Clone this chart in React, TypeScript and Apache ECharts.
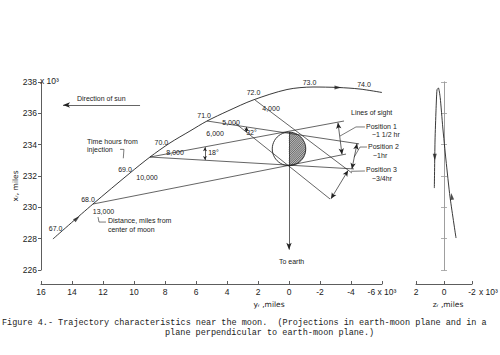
import React, { useEffect, useRef } from 'react';
import * as echarts from 'echarts';

// ---- data (yr, xr in thousands of miles) ----
const trajYr = [15.23, 12.65, 10.26, 8.97, 7.68, 6.39, 5.29, 3.94, 2.32, 0.13, -1.55, -3.16, -4.58, -6.0];
const trajXr = [227.98, 230.21, 232.19, 233.21, 234.11, 234.87, 235.51, 236.15, 236.85, 237.52, 237.68, 237.65, 237.55, 237.33];

const zTrajZr = [-0.86, -0.43, -0.14, 0.09, 0.27, 0.4, 0.5, 0.57, 0.64, 0.69];
const zTrajXr = [228.04, 230.66, 233.02, 235.13, 237.0, 237.62, 237.5, 236.2, 234.3, 231.23];

const timeLabels = ['67.0', '68.0', '69.0', '70.0', '71.0', '72.0', '73.0', '74.0'];
const timeYr = [15.06, 12.97, 10.58, 8.23, 5.48, 2.29, -1.32, -4.84];
const timeXr = [228.66, 230.47, 232.43, 234.17, 235.89, 237.32, 237.96, 237.81];

const distLabels = ['13,000', '10,000', '8,000', '6,000', '5,000', '4,000'];
const distYr = [11.97, 9.16, 7.35, 4.77, 3.74, 1.16];
const distXr = [229.72, 231.89, 233.49, 234.73, 235.4, 236.32];

const angleLabels = ['18°', '32°'];
const angleYr = [4.87, 2.42];
const angleXr = [233.49, 234.76];

const noteTexts = ['Time hours from', 'injection', 'Distance, miles from', 'center of moon', 'Direction of sun',
  'Lines of sight', 'Position 1', '~1 1/2 hr', 'Position 2', '~1hr', 'Position 3', '~3/4hr', 'To earth'];
const noteYr = [13.03, 13.03, 11.68, 11.68, 13.68, -4.0, -4.97, -5.35, -5.1, -5.42, -4.97, -5.35, 0.65];
const noteXr = [234.22, 233.7, 229.17, 228.6, 236.96, 236.07, 235.18, 234.66, 233.86, 233.33, 232.4, 231.84, 226.57];

const moonCenter = [0, 233.73];
const moonRadius = 1.08;

const sightStart = [[12.65, 230.21], [8.97, 233.21], [8.97, 233.21], [5.29, 235.51], [2.19, 236.85], [3.48, 235.38]];
const sightEnd = [[-3.68, 233.4], [-3.55, 235.51], [-4.19, 232.45], [-4.52, 234.05], [-4.06, 232.19], [-2.65, 230.53]];

const dimStart = [[-3.16, 235.4], [-4.39, 234.07], [-3.81, 232.35], [5.42, 233.84], [2.75, 235.13]];
const dimEnd = [[-3.42, 233.38], [-4.06, 232.45], [-2.71, 230.55], [5.42, 233.02], [2.75, 234.8]];

const sunArrow = [[14.58, 236.53], [9.61, 236.53]];
const earthArrow = [[0, 234.81], [0, 227.3]];

const leaders = [
  [[-4.9, 235.13], [-4.32, 235.13], [-3.29, 234.55]],
  [[-5.03, 233.85], [-4.58, 233.85], [-4.2, 233.2]],
  [[-4.9, 232.32], [-4.0, 232.3]],
  [[10.9, 233.7], [10.65, 233.7], [10.69, 233.13]],
  [[12.32, 229.38], [12.26, 229.06], [11.81, 229.06]],
];

const trajArrows = [[13.68, 229.29, -49], [-3.16, 237.65, -90]];
const zArrows = [[-0.55, 230.7, 7], [0.66, 233.2, 180]];

const INK = '#222';
const FONT = 'Liberation Sans';

export default function App() {
  const ref = useRef<HTMLDivElement>(null);
  useEffect(() => {
    if (!ref.current) return;
    const chart = echarts.init(ref.current, null, { renderer: 'svg' });

    const axisLineStyle = { color: '#333', width: 0.8 };
    const greyLine = { color: '#9a9a9a', width: 0.8 };
    const labelStyle = { fontSize: 8.5, fontFamily: FONT, color: INK };

    const markLineData: any[] = [];
    sightStart.forEach((s, i) => {
      markLineData.push([{ coord: s }, { coord: sightEnd[i] }]);
    });
    dimStart.forEach((s, i) => {
      const sz = i < 3 ? [4, 6] : [3, 4];
      markLineData.push([
        { coord: s, symbol: 'arrow', symbolSize: sz },
        { coord: dimEnd[i], symbol: 'arrow', symbolSize: sz },
      ]);
    });
    markLineData.push([
      { coord: sunArrow[0], symbol: 'arrow', symbolSize: [4, 7] },
      { coord: sunArrow[1], symbol: 'none' },
    ]);
    markLineData.push([
      { coord: earthArrow[0], symbol: 'none' },
      { coord: earthArrow[1], symbol: 'arrow', symbolSize: [4, 7] },
    ]);

    const staticGraphic: any[] = [
      { type: 'text', x: 40, y: 81, style: { text: 'x 10³', fontSize: 8.5, fontFamily: FONT, fill: INK, align: 'left', verticalAlign: 'middle' } },
      { type: 'text', x: 479, y: 292, style: { text: 'x 10³', fontSize: 8.5, fontFamily: FONT, fill: INK, align: 'left', verticalAlign: 'middle' } },
      { type: 'text', x: 15, y: 186, rotation: Math.PI / 2, style: { text: 'xᵣ, miles', fontSize: 7.5, fontFamily: 'DejaVu Sans', fill: INK, align: 'center', verticalAlign: 'middle' } },
      { type: 'text', x: 269, y: 304, style: { text: 'yᵣ ,miles', fontSize: 7.5, fontFamily: 'DejaVu Sans', fill: INK, align: 'center', verticalAlign: 'middle' } },
      { type: 'text', x: 448, y: 304, style: { text: 'zᵣ ,miles', fontSize: 7.5, fontFamily: 'DejaVu Sans', fill: INK, align: 'center', verticalAlign: 'middle' } },
      { type: 'text', x: 2, y: 323, style: { text: 'Figure 4.- Trajectory characteristics near the moon.  (Projections in earth-moon plane and in a', fontSize: 8.5, fontFamily: 'Liberation Mono', fill: INK, align: 'left', verticalAlign: 'middle' } },
      { type: 'text', x: 165, y: 333, style: { text: 'plane perpendicular to earth-moon plane.)', fontSize: 8.5, fontFamily: 'Liberation Mono', fill: INK, align: 'left', verticalAlign: 'middle' } },
    ];

    const option: any = {
      animation: false,
      backgroundColor: '#fff',
      grid: [
        { left: 41, right: 118, top: 82, bottom: 85, containLabel: false, outerBoundsMode: 'none' },
        { left: 416, right: 28, top: 82, bottom: 85, containLabel: false, outerBoundsMode: 'none' },
      ],
      xAxis: [
        {
          type: 'value', gridIndex: 0, min: -6, max: 16, interval: 2, inverse: true, offset: 14,
          axisLine: { show: true, onZero: false, lineStyle: axisLineStyle },
          axisTick: { show: true, inside: true, length: 3, lineStyle: axisLineStyle },
          axisLabel: {
            ...labelStyle, margin: 3, showMinLabel: true, showMaxLabel: true,
            formatter: (v: number) => (v === -6 ? '-6 x 10³' : String(v)),
          },
          splitLine: { show: false },
        },
        {
          type: 'value', gridIndex: 1, min: -2, max: 2, interval: 2, inverse: true, offset: 14,
          axisLine: { show: true, onZero: false, lineStyle: axisLineStyle },
          axisTick: { show: true, inside: true, length: 3, lineStyle: axisLineStyle },
          axisLabel: { ...labelStyle, margin: 3, showMinLabel: true, showMaxLabel: true, formatter: (v: number) => String(v) },
          splitLine: { show: false },
        },
      ],
      yAxis: [
        {
          type: 'value', gridIndex: 0, min: 226, max: 238, interval: 2, position: 'left',
          axisLine: { show: true, onZero: false, lineStyle: axisLineStyle },
          axisTick: { show: true, length: 3, lineStyle: axisLineStyle },
          axisLabel: { ...labelStyle, margin: 4, showMinLabel: true, showMaxLabel: true },
          splitLine: { show: false },
        },
        {
          type: 'value', gridIndex: 1, min: 226, max: 238, interval: 2, position: 'left', offset: -28,
          axisLine: { show: true, onZero: false, lineStyle: greyLine },
          axisTick: { show: true, length: 3, lineStyle: greyLine },
          axisLabel: { show: false },
          splitLine: { show: false },
        },
        {
          type: 'value', gridIndex: 1, min: 226, max: 238, interval: 2, position: 'right', offset: -28,
          axisLine: { show: true, onZero: false, lineStyle: greyLine },
          axisTick: { show: true, length: 3, lineStyle: greyLine },
          axisLabel: { show: false },
          splitLine: { show: false },
        },
      ],
      series: [
        {
          type: 'custom', xAxisIndex: 0, yAxisIndex: 0, silent: true,
          dimensions: ['yr', 'xr', 'r'], encode: { x: 0, y: 1 },
          data: [[moonCenter[0], moonCenter[1], moonRadius]],
          renderItem: (params: any, api: any) => {
            const c = api.coord([api.value(0), api.value(1)]);
            const rr = api.size([api.value(2), 0])[0];
            const children: any[] = [];
            children.push({
              type: 'sector',
              shape: { cx: c[0], cy: c[1], r0: 0, r: rr, startAngle: -Math.PI / 2, endAngle: Math.PI / 2, clockwise: true },
              style: { fill: '#b8b8b8', stroke: 'none' },
            });
            const step = 2.2;
            for (let k = -rr * Math.SQRT2; k <= rr * Math.SQRT2; k += step) {
              const disc = (rr * rr - (k * k) / 2) / 2;
              if (disc <= 0) continue;
              const T = Math.sqrt(disc);
              const t0 = Math.max(-T, -k / 2);
              if (t0 >= T) continue;
              children.push({
                type: 'line',
                shape: { x1: c[0] + k / 2 + t0, y1: c[1] + k / 2 - t0, x2: c[0] + k / 2 + T, y2: c[1] + k / 2 - T },
                style: { stroke: '#333', lineWidth: 0.6 },
              });
            }
            children.push({
              type: 'circle',
              shape: { cx: c[0], cy: c[1], r: rr },
              style: { fill: 'none', stroke: INK, lineWidth: 0.9 },
            });
            return { type: 'group', children };
          },
        },
        {
          type: 'line', xAxisIndex: 0, yAxisIndex: 0, silent: true,
          data: trajYr.map((v, i) => [v, trajXr[i]]),
          smooth: 0.3, showSymbol: false, symbol: 'none',
          lineStyle: { color: INK, width: 0.9 },
        },
        {
          type: 'line', xAxisIndex: 0, yAxisIndex: 0, silent: true, data: [],
          markLine: {
            silent: true, symbol: ['none', 'none'], label: { show: false },
            lineStyle: { color: INK, width: 0.7, type: 'solid' },
            emphasis: { disabled: true },
            data: markLineData,
          },
        },
        ...leaders.map((pts) => ({
          type: 'line', xAxisIndex: 0, yAxisIndex: 0, silent: true,
          data: pts, showSymbol: false, symbol: 'none',
          lineStyle: { color: INK, width: 0.6 },
        })),
        {
          type: 'scatter', xAxisIndex: 0, yAxisIndex: 0, silent: true,
          symbol: 'triangle', symbolSize: [4, 7], itemStyle: { color: INK },
          data: trajArrows.map((a) => ({ value: [a[0], a[1]], symbolRotate: a[2] })),
        },
        {
          type: 'line', xAxisIndex: 1, yAxisIndex: 1, silent: true,
          data: zTrajZr.map((v, i) => [v, zTrajXr[i]]),
          smooth: 0.2, showSymbol: false, symbol: 'none',
          lineStyle: { color: INK, width: 0.9 },
        },
        {
          type: 'scatter', xAxisIndex: 1, yAxisIndex: 1, silent: true,
          symbol: 'triangle', symbolSize: [4, 7], itemStyle: { color: INK },
          data: zArrows.map((a) => ({ value: [a[0], a[1]], symbolRotate: a[2] })),
        },
      ],
      graphic: staticGraphic,
    };

    chart.setOption(option);

    // Annotation texts placed through the chart's own data->pixel conversion
    const toPx = (x: number, y: number) => chart.convertToPixel({ xAxisIndex: 0, yAxisIndex: 0 }, [x, y]) as number[];
    const textEl = (t: string, x: number, y: number, align: string) => {
      const p = toPx(x, y);
      return {
        type: 'text', x: p[0], y: p[1], silent: true,
        style: { text: t, fontSize: 7, fontFamily: FONT, fill: INK, align, verticalAlign: 'middle' },
      };
    };
    const annotations: any[] = [];
    timeLabels.forEach((t, i) => annotations.push(textEl(t, timeYr[i], timeXr[i], 'center')));
    distLabels.forEach((t, i) => annotations.push(textEl(t, distYr[i], distXr[i], 'center')));
    angleLabels.forEach((t, i) => annotations.push(textEl(t, angleYr[i], angleXr[i], 'center')));
    noteTexts.forEach((t, i) => annotations.push(textEl(t, noteYr[i], noteXr[i], 'left')));

    chart.setOption({ graphic: [...staticGraphic, ...annotations] });

    return () => chart.dispose();
  }, []);

  return <div ref={ref} style={{ position: 'fixed', left: 0, top: 0, width: 500, height: 355 }} />;
}
